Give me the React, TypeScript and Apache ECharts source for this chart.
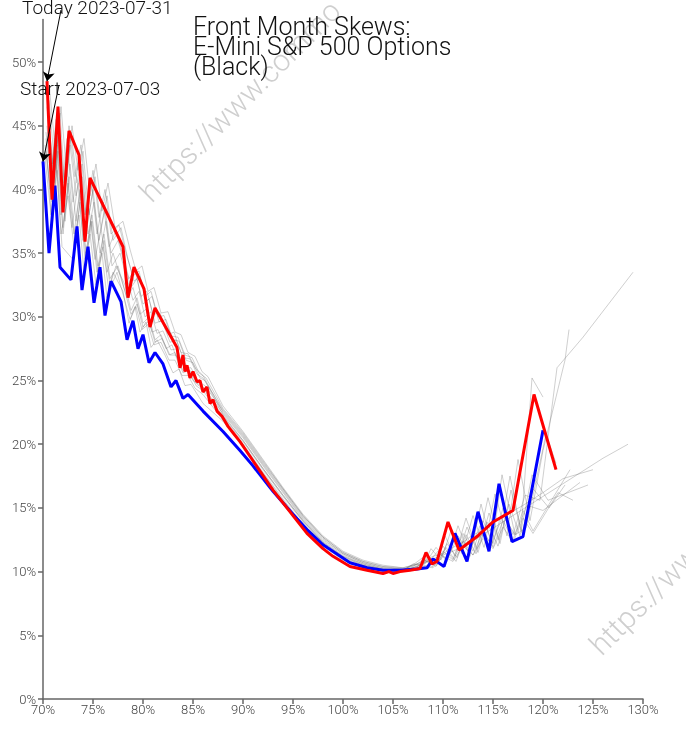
import React, { useEffect, useRef } from "react";
import * as echarts from "echarts";

// Today (2023-07-31) skew: moneyness (%) and implied vol (%)
const redX = [70.4, 70.9, 71.5, 72.0, 72.6, 73.6, 74.2, 74.7, 78.0, 78.5, 79.1, 80.1, 80.7, 81.2, 83.4, 83.7, 84.0, 84.2, 84.4, 84.7, 85.0, 85.4, 85.7, 86.0, 86.4, 86.7, 87.0, 87.4, 87.9, 88.2, 88.5, 89.0, 89.7, 91.0, 93.0, 95.0, 96.4, 98.0, 99.0, 100.7, 102.4, 104.0, 104.6, 105.0, 105.7, 106.7, 107.7, 108.3, 108.9, 109.4, 110.5, 111.6, 113.4, 115.0, 117.0, 119.1, 121.3];
const redY = [48.5, 39.2, 46.5, 38.2, 44.6, 42.7, 35.9, 40.9, 35.5, 31.5, 33.9, 32.2, 29.2, 30.7, 27.6, 26.0, 27.0, 25.7, 26.2, 25.2, 25.7, 24.9, 25.0, 24.1, 24.5, 23.2, 23.5, 22.6, 22.2, 21.8, 21.4, 20.9, 20.2, 18.7, 16.4, 14.4, 13.0, 11.8, 11.2, 10.4, 10.1, 9.85, 10.0, 9.85, 10.0, 10.1, 10.25, 11.5, 10.6, 10.8, 13.9, 11.7, 12.75, 13.9, 14.8, 23.9, 18.0];

// Start (2023-07-03) skew
const blueX = [70.0, 70.6, 71.2, 71.7, 72.8, 73.4, 73.9, 74.5, 75.1, 75.7, 76.2, 76.8, 77.8, 78.4, 79.0, 79.5, 80.0, 80.6, 81.2, 82.0, 82.8, 83.3, 84.0, 84.5, 86.0, 88.0, 89.7, 91.0, 93.0, 95.0, 96.4, 98.0, 100.7, 102.4, 104.0, 105.7, 107.4, 108.4, 109.0, 110.1, 111.2, 112.4, 113.5, 114.6, 115.6, 116.9, 118.0, 120.0];
const blueY = [42.2, 35.0, 40.3, 33.9, 32.9, 37.1, 32.1, 35.5, 31.1, 33.9, 30.1, 32.8, 31.2, 28.2, 29.7, 27.5, 28.6, 26.4, 27.2, 26.3, 24.5, 25.0, 23.6, 23.9, 22.6, 21.0, 19.5, 18.3, 16.3, 14.5, 13.3, 12.1, 10.7, 10.3, 10.1, 10.1, 10.2, 10.3, 11.0, 10.4, 13.0, 10.8, 14.7, 11.6, 16.9, 12.35, 12.75, 21.1];

// Intermediate days (grey)
const greyDay1 = [[70.3,44],[70.9,37],[71.4,41.5],[71.9,35.5],[73.0,34.5],[73.6,38],[74.1,33.5],[74.7,36.5],[75.3,32.5],[75.9,35],[76.4,31.5],[77,33.5],[78,32],[78.6,29.5],[79.2,30.8],[79.7,28.8],[80.3,29.6],[80.8,27.6],[81.4,28.2],[82.2,27],[83,25.6],[83.6,25.9],[84.2,24.6],[84.8,24.7],[86,23.2],[88,21.8],[90,19.9],[92,17.7],[94,15.6],[96,13.6],[98,12.0],[100,10.9],[102,10.3],[104,10.0],[106,10.0],[107.6,10.5],[108.6,10.8],[109.5,11.6],[110.4,10.8],[111.5,13.6],[112.7,11.2],[113.8,15.3],[114.9,12.0],[115.9,17.6],[117.2,12.9],[118.3,13.4],[120.3,20.8],[121.3,18.5]];
const greyDay2 = [[70.4,45],[71,38.5],[71.5,43],[72,36.5],[72.6,41],[73.2,36],[73.8,39.5],[74.3,34.5],[74.9,37.5],[75.5,33.5],[76.1,36],[76.7,32.5],[77.3,34],[78.2,32.5],[78.8,30.5],[79.4,31.5],[80,29.5],[80.6,30],[81.2,28.2],[81.8,28.6],[82.6,27],[83.2,27.2],[84,25.6],[84.6,25.8],[85.3,24.6],[86,24.2],[88,22.1],[90,20.2],[92,18.0],[94,15.9],[96,13.9],[98,12.2],[100,11.1],[102,10.5],[104,10.1],[106,10.1],[107,10.6],[108,10.5],[108.8,11.8],[109.8,10.9],[110.8,13.2],[111.9,11.4],[113,14.4],[114.1,11.9],[115.2,16.1],[116.4,12.8],[117.5,18.8],[118.7,14.0],[120,19.5],[122.2,26.6],[122.6,29.0]];
const greyDay3 = [[70.2,43.5],[70.7,40],[71.2,44],[71.8,38],[72.3,42],[72.9,37],[73.5,40.5],[74,36],[74.6,38.5],[75.2,34.5],[75.8,37],[76.4,33.5],[77,35],[77.8,33],[78.4,31.5],[79,32.3],[79.7,30.2],[80.3,30.6],[80.9,28.8],[81.5,29],[82.3,27.5],[82.9,27.8],[83.6,26.2],[84.3,26.3],[85,25],[86,24.5],[88,22.4],[90,20.5],[92,18.3],[94,16.2],[96,14.1],[98,12.4],[100,11.3],[102,10.6],[104,10.2],[106,10.1],[107.3,10.7],[108.3,11.3],[109.2,10.7],[110.2,12.8],[111.2,11.2],[112.3,14.2],[113.4,11.8],[114.5,15.8],[115.6,12.5],[116.7,17.5],[117.8,13.2],[118.9,25.2],[120,23.7]];
const greyDay4 = [[70.5,46],[71.1,40.5],[71.6,45],[72.1,39],[72.7,43.5],[73.3,39.5],[73.9,42],[74.4,37],[75,40],[75.6,36],[76.2,38.5],[76.8,35],[77.5,36],[78.2,34],[78.8,32.3],[79.4,33],[80,31],[80.6,31.4],[81.2,29.5],[81.9,29.7],[82.7,28],[83.3,28.2],[84,26.8],[84.7,26.7],[85.4,25.5],[86,25.2],[88,22.7],[90,20.8],[92,18.6],[94,16.5],[96,14.4],[98,12.7],[100,11.5],[102,10.8],[104,10.4],[106,10.2],[107,10.4],[108,10.9],[109,10.6],[110,12.0],[111,11.0],[112,13.0],[113,11.6],[114,14.0],[115,12.2],[116,15.0],[117,12.9],[118.2,16.0],[119.7,15.6],[121.4,26.0],[124,28.4],[129,33.5]];
const greyDay5 = [[70.3,44.5],[70.8,41],[71.3,45.5],[71.9,40],[72.4,44],[73,39],[73.6,42.5],[74.2,38],[74.8,40.8],[75.4,36.5],[76,39],[76.6,35.5],[77.3,36.8],[78,34.8],[78.6,33],[79.2,33.7],[79.8,31.6],[80.4,32],[81,30.2],[81.7,30.3],[82.5,28.6],[83.1,28.8],[83.8,27.2],[84.5,27.1],[85.2,26],[86,25.4],[88,22.5],[90,20.6],[92,18.4],[94,16.3],[96,14.2],[98,12.5],[100,11.4],[102,10.7],[104,10.3],[106,10.2],[107.2,10.5],[108.2,10.6],[109.3,11.9],[110.4,10.9],[111.5,12.8],[112.6,11.5],[113.7,13.6],[114.8,12.1],[116,14.4],[117.2,12.9],[118.4,15.2],[120,14.8],[123.7,17.0]];
const greyDay6 = [[70.6,47],[71.2,41.5],[71.7,46],[72.2,40],[72.8,44.5],[73.4,40.5],[74,43],[74.6,38],[75.2,41],[75.8,37],[76.4,39.5],[77,36],[77.8,37],[78.5,34.5],[79.1,32.8],[79.7,33.2],[80.3,31.2],[80.9,31.6],[81.6,29.6],[82.3,29.8],[83,28.2],[83.6,28.1],[84.3,26.6],[85,26.4],[85.7,25.2],[86.2,25],[88,22.3],[90,20.3],[92,18.1],[94,16.0],[96,14.0],[98,12.3],[100,11.2],[102,10.5],[104,10.2],[106,10.1],[107,10.3],[108,10.5],[109,10.4],[110,11.6],[111,10.9],[112,12.4],[113,11.3],[114,13.2],[115,11.9],[116,14.0],[117,12.5],[118,14.8],[119,13.2],[122.7,18.0]];
const greyDay7 = [[70.4,46.5],[71,42],[71.5,46.5],[72.1,40.5],[72.6,45],[73.2,41],[73.8,43.5],[74.4,38.5],[75,41.5],[75.6,37.8],[76.2,40],[76.8,36.5],[77.6,37.2],[78.3,35],[79,33.2],[79.6,33.6],[80.2,31.6],[80.8,32],[81.5,30],[82.1,30.1],[82.8,28.5],[83.5,28.4],[84.2,27],[84.9,26.8],[85.6,25.6],[86.3,25.2],[88,22.8],[90,20.9],[92,18.7],[94,16.5],[96,14.4],[98,12.7],[100,11.5],[102,10.8],[104,10.4],[106,10.3],[107,10.5],[108,10.8],[109,11.2],[110,11.4],[111,11.9],[112,12.3],[113,12.9],[114,13.2],[115,13.8],[116,14.3],[118,15.2],[120,16.2],[122,17.3],[125,18.0]];
const greyDay8 = [[70.7,47.5],[71.3,42.5],[71.8,46.5],[72.4,41],[72.9,45],[73.5,41.5],[74.1,44],[74.7,39.5],[75.3,42],[75.9,38.3],[76.5,40.5],[77.2,37],[78,37.5],[78.7,35.3],[79.3,33.6],[79.9,34],[80.5,32],[81.1,32.3],[81.8,30.3],[82.5,30.4],[83.2,28.8],[83.8,28.6],[84.5,27.2],[85.2,26.9],[85.9,25.7],[86.5,25.3],[88,23.0],[90,21.0],[92,18.8],[94,16.6],[96,14.5],[98,12.8],[100,11.6],[102,10.9],[104,10.5],[106,10.3],[107,10.5],[108,10.7],[109,11.0],[110,11.3],[111,11.6],[112,12.0],[113,12.4],[114,12.9],[115,13.4],[116,13.9],[118,14.9],[120,15.9],[122,16.9],[124,17.9],[126,18.9],[128.5,20.0]];
const greyDay9 = [[70.2,42.5],[70.8,38],[71.3,42.5],[71.8,36.5],[72.5,39.5],[73.1,35.5],[73.7,39],[74.2,34.5],[74.8,37.5],[75.4,33.5],[76,35.5],[76.6,32],[77.4,33.5],[78.1,31.5],[78.7,29.8],[79.3,30.8],[79.9,29],[80.5,29.4],[81.1,27.8],[81.8,28],[82.6,26.6],[83.2,26.6],[83.9,25.4],[84.5,25.4],[85.2,24.4],[86,23.9],[88,21.9],[90,20.0],[92,17.8],[94,15.7],[96,13.7],[98,12.1],[100,11.0],[102,10.4],[104,10.1],[106,10.1],[107.4,10.4],[108.4,10.8],[109.4,10.5],[110.4,12.2],[111.4,11.1],[112.4,13.5],[113.5,11.5],[114.6,14.6],[115.7,12.2],[116.8,16.4],[117.9,13.0],[119,16.5],[120.6,15.0],[122.2,16.8]];
const greyDay10 = [[70.5,45.5],[71.1,39.5],[71.6,44],[72.2,37.5],[72.7,42],[73.3,37.5],[73.9,41],[74.5,36.5],[75.1,39],[75.7,35],[76.3,37.5],[76.9,34],[77.7,35],[78.4,33],[79,31.3],[79.6,32],[80.2,30],[80.8,30.4],[81.4,28.7],[82,28.9],[82.8,27.4],[83.4,27.5],[84.1,26],[84.8,26],[85.5,24.9],[86.2,24.6],[88,22.6],[90,20.7],[92,18.5],[94,16.4],[96,14.3],[98,12.6],[100,11.4],[102,10.7],[104,10.3],[106,10.2],[107.3,10.3],[108.3,10.9],[109.3,10.4],[110.3,11.9],[111.3,10.8],[112.3,12.9],[113.3,11.4],[114.4,13.9],[115.5,12.0],[116.6,15.3],[117.7,12.8],[118.9,17.6],[120.5,15.6],[124.5,16.8]];
const greyDay11 = [[70.3,43],[70.9,39],[71.4,43.5],[72,37],[72.5,40.5],[73.1,36.5],[73.7,40],[74.3,35],[74.9,38],[75.5,34],[76.1,36.5],[76.7,33],[77.5,34],[78.2,32],[78.8,30.2],[79.4,31],[80,29.2],[80.6,29.7],[81.2,28],[81.9,28.3],[82.7,27],[83.3,27],[84,25.8],[84.7,25.8],[85.4,24.7],[86.1,24.3],[88,22.2],[90,20.3],[92,18.1],[94,16.0],[96,14.0],[98,12.3],[100,11.2],[102,10.6],[104,10.2],[106,10.1],[107,10.2],[108,10.4],[109,10.3],[110,11.2],[111,10.8],[112,12.0],[113,11.3],[114,12.6],[115,11.8],[116,13.5],[117,12.3],[118,14.2],[119,13.0],[121.5,16.2],[123,15.6]];
const greyDays = [greyDay1, greyDay2, greyDay3, greyDay4, greyDay5, greyDay6, greyDay7, greyDay8, greyDay9, greyDay10, greyDay11];

const titleLines = ["Front Month Skews:", "E-Mini S&P 500 Options", "(Black)"];
const todayLabel = "Today 2023-07-31";
const startLabel = "Start 2023-07-03";
const watermark = "https://www.commo";

const FONT = "Roboto";

export default function App() {
  const ref = useRef<HTMLDivElement>(null);
  useEffect(() => {
    document.body.style.margin = "0";
    const chart = echarts.init(ref.current!, null, { renderer: "svg" });
    const greySeries = greyDays.map((d, i) => ({
      type: "line",
      name: "day" + (i + 1),
      data: d,
      showSymbol: false,
      symbol: "none",
      silent: true,
      z: 2,
      lineStyle: { color: "rgba(95,95,95,0.3)", width: 1 },
    }));
    const arrowCommon = {
      silent: true,
      symbol: ["none", "arrow"],
      symbolSize: 9,
      label: { show: false },
      itemStyle: { color: "#000" },
      lineStyle: { color: "#000", width: 1, type: "solid" },
      emphasis: { disabled: true },
    };
    chart.setOption({
      animation: false,
      grid: { left: 43, right: 43, top: 19.5, bottom: 31, containLabel: false },
      xAxis: {
        type: "value",
        min: 70,
        max: 130,
        interval: 5,
        splitLine: { show: false },
        axisLine: { show: true, lineStyle: { color: "#666", width: 1.5 } },
        axisTick: { show: true, length: 5, lineStyle: { color: "#666", width: 1.5 } },
        axisLabel: { formatter: "{value}%", color: "#444", fontSize: 13, fontFamily: FONT, fontWeight: 300, margin: 4 },
      },
      yAxis: {
        type: "value",
        min: 0,
        max: 53.34,
        interval: 5,
        splitLine: { show: false },
        axisLine: { show: true, lineStyle: { color: "#666", width: 1.5 } },
        axisTick: { show: true, length: 5, lineStyle: { color: "#666", width: 1.5 } },
        axisLabel: { formatter: "{value}%", color: "#444", fontSize: 13, fontFamily: FONT, fontWeight: 300, margin: 7, showMaxLabel: false },
      },
      graphic: [
        {
          type: "text",
          x: 155,
          y: 207,
          rotation: Math.PI / 4,
          z: 0,
          silent: true,
          style: { text: watermark, fill: "#cfcfcf", fontSize: 30, fontFamily: FONT, fontWeight: 300, verticalAlign: "bottom", align: "left" },
        },
        {
          type: "text",
          x: 605,
          y: 660,
          rotation: Math.PI / 4,
          z: 0,
          silent: true,
          style: { text: watermark, fill: "#cfcfcf", fontSize: 30, fontFamily: FONT, fontWeight: 300, verticalAlign: "bottom", align: "left" },
        },
        ...titleLines.map((t, i) => ({
          type: "text",
          x: 193,
          y: 26.8 + i * 20,
          z: 10,
          silent: true,
          style: { text: t, fill: "#111", fontSize: 25, fontFamily: FONT, fontWeight: 300, verticalAlign: "middle", align: "left" },
        })),
        {
          type: "text",
          x: 22,
          y: 7.5,
          z: 10,
          silent: true,
          style: { text: todayLabel, fill: "#111", fontSize: 19, fontFamily: FONT, fontWeight: 300, verticalAlign: "middle", align: "left" },
        },
        {
          type: "text",
          x: 20,
          y: 88.5,
          z: 10,
          silent: true,
          style: { text: startLabel, fill: "#111", fontSize: 19, fontFamily: FONT, fontWeight: 300, verticalAlign: "middle", align: "left" },
        },
      ],
      series: [
        ...greySeries,
        {
          type: "line",
          name: "start",
          data: blueX.map((x, i) => [x, blueY[i]]),
          showSymbol: false,
          symbol: "none",
          z: 3,
          clip: false,
          lineStyle: { color: "#0000ff", width: 3 },
          markLine: {
            ...arrowCommon,
            data: [[{ x: 59, y: 85 }, { coord: [blueX[0], blueY[0]] }]],
          },
        },
        {
          type: "line",
          name: "today",
          data: redX.map((x, i) => [x, redY[i]]),
          showSymbol: false,
          symbol: "none",
          z: 4,
          clip: false,
          lineStyle: { color: "#ff0000", width: 3 },
          markLine: {
            ...arrowCommon,
            data: [[{ x: 61, y: 10 }, { coord: [redX[0], redY[0]] }]],
          },
        },
      ],
    });
    return () => chart.dispose();
  }, []);
  return <div ref={ref} style={{ position: "fixed", left: 0, top: 0, width: 686, height: 730 }} />;
}
